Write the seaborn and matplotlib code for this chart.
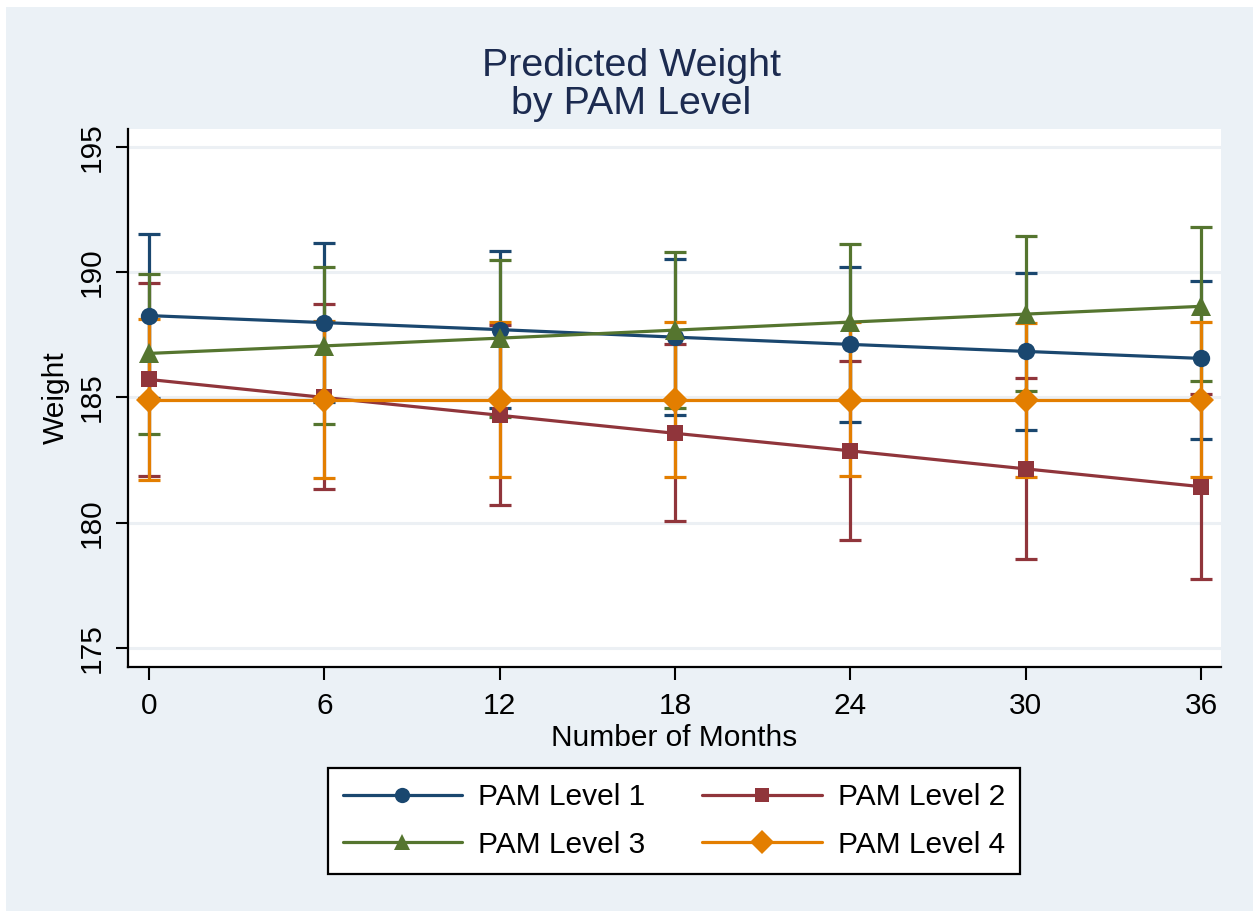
import numpy as np
import pandas as pd
import matplotlib
matplotlib.use("Agg")
import matplotlib.pyplot as plt
from matplotlib.patches import Rectangle
from matplotlib.lines import Line2D
import seaborn as sns

# ---- data ----
months = [0, 6, 12, 18, 24, 30, 36]
levels = ["PAM Level 1", "PAM Level 2", "PAM Level 3", "PAM Level 4"]

level1_mean = [188.27, 187.99, 187.71, 187.41, 187.12, 186.84, 186.56]
level1_lo = [184.98, 184.83, 184.60, 184.29, 184.01, 183.69, 183.36]
level1_hi = [191.53, 191.17, 190.86, 190.52, 190.23, 189.96, 189.67]

level2_mean = [185.72, 185.00, 184.29, 183.57, 182.87, 182.15, 181.44]
level2_lo = [181.88, 181.34, 180.69, 180.05, 179.32, 178.57, 177.76]
level2_hi = [189.59, 188.72, 187.90, 187.15, 186.45, 185.76, 185.13]

level3_mean = [186.76, 187.06, 187.37, 187.69, 188.01, 188.33, 188.64]
level3_lo = [183.53, 183.93, 184.24, 184.60, 184.90, 185.25, 185.64]
level3_hi = [189.92, 190.20, 190.50, 190.80, 191.12, 191.43, 191.80]

level4_mean = [184.92, 184.92, 184.92, 184.92, 184.92, 184.92, 184.92]
level4_lo = [181.69, 181.77, 181.81, 181.81, 181.85, 181.82, 181.83]
level4_hi = [188.15, 188.05, 188.00, 188.00, 188.00, 187.98, 188.01]

y_ticks = [175, 180, 185, 190, 195]
x_ticks = [0, 6, 12, 18, 24, 30, 36]

# ---- styles ----
colors = ["#1A476F", "#90353B", "#55752F", "#E37E00"]
marker_map = {"PAM Level 1": "o", "PAM Level 2": "s", "PAM Level 3": "^", "PAM Level 4": "D"}
marker_sizes = {"PAM Level 1": 12.5, "PAM Level 2": 12, "PAM Level 3": 14, "PAM Level 4": 13}
legend_marker_sizes = {"PAM Level 1": 11, "PAM Level 2": 10.5, "PAM Level 3": 12, "PAM Level 4": 12}
bg = "#EBF1F6"
FONT = ["Liberation Sans", "Arial", "DejaVu Sans"]

sns.set_theme(style="white")
plt.rcParams["font.family"] = FONT
plt.rcParams["text.color"] = "black"

means = [level1_mean, level2_mean, level3_mean, level4_mean]
los = [level1_lo, level2_lo, level3_lo, level4_lo]
his = [level1_hi, level2_hi, level3_hi, level4_hi]

rows = []
for lev, m, lo, hi in zip(levels, means, los, his):
    for x, v, l, h in zip(months, m, lo, hi):
        rows.append({"month": x, "weight": v, "lo": l, "hi": h, "level": lev})
df = pd.DataFrame(rows)

W, H = 1253, 911
fig = plt.figure(figsize=(W / 100, H / 100), dpi=100, facecolor="white")
fig.patches.append(Rectangle((6 / W, 0), 1 - 6 / W, 1 - 7 / H,
                             transform=fig.transFigure, facecolor=bg,
                             edgecolor="none", zorder=-10))

ax = fig.add_axes([128 / W, 1 - 667 / H, (1221 - 128) / W, (667 - 129) / H])
ax.set_facecolor("white")

# confidence intervals first
for lev, col in zip(levels, colors):
    d = df[df["level"] == lev]
    ax.errorbar(d["month"], d["weight"],
                yerr=[d["weight"] - d["lo"], d["hi"] - d["weight"]],
                fmt="none", ecolor=col, elinewidth=2.3, capsize=8,
                capthick=2.3, zorder=2)

sns.lineplot(data=df, x="month", y="weight", hue="level", style="level",
             hue_order=levels, style_order=levels, palette=colors,
             markers=marker_map, dashes=False, linewidth=2.3,
             markersize=12, markeredgewidth=0, ax=ax, legend=False,
             zorder=3, errorbar=None, sort=False)
for line, lev in zip(ax.get_lines()[-4:], levels):
    line.set_markersize(marker_sizes[lev])

ax.set_xlim(-0.72, 36.68)
ax.set_ylim(174.24, 195.72)
ax.set_xticks(x_ticks)
ax.set_xticklabels([str(t) for t in x_ticks])
ax.set_yticks(y_ticks)
ax.set_yticklabels([str(t) for t in y_ticks], rotation=90, va="center")

ax.grid(axis="y", color="#ECF0F4", linewidth=2.2, zorder=0)
ax.set_axisbelow(True)
for s in ["top", "right"]:
    ax.spines[s].set_visible(False)
for s in ["left", "bottom"]:
    ax.spines[s].set_color("black")
    ax.spines[s].set_linewidth(1.6)

ax.tick_params(axis="both", which="major", length=9, width=1.5, color="black",
               labelsize=21.5, labelcolor="black", direction="out",
               left=True, bottom=True)
ax.tick_params(axis="x", pad=9)
ax.tick_params(axis="y", pad=7)

ax.set_xlabel("Number of Months", fontsize=21.5, color="black", labelpad=3)
ax.set_ylabel("Weight", fontsize=21.5, color="black", labelpad=6)

fig.text(631 / W, 1 - 85 / H, "Predicted Weight\nby PAM Level", ha="center",
         va="center", fontsize=28.4, color="#1C2B50", linespacing=1.08)

handles = {l: Line2D([0], [0], color=c, linewidth=2.3, marker=marker_map[l],
                     markersize=legend_marker_sizes[l], markeredgewidth=0)
           for l, c in zip(levels, colors)}
order = [levels[0], levels[2], levels[1], levels[3]]  # row-wise layout
leg = fig.legend([handles[l] for l in order], order, loc="center", ncol=2,
                 bbox_to_anchor=(674 / W, 1 - 821 / H),
                 fontsize=21.5, frameon=True, fancybox=False,
                 edgecolor="black", facecolor="white", framealpha=1,
                 handlelength=4.0, handletextpad=0.55, columnspacing=1.9,
                 labelspacing=0.65, borderpad=0.5, borderaxespad=0)
leg.get_frame().set_linewidth(1.6)
for t in leg.get_texts():
    t.set_color("black")

fig.savefig("out.png", dpi=100, facecolor=fig.get_facecolor())
